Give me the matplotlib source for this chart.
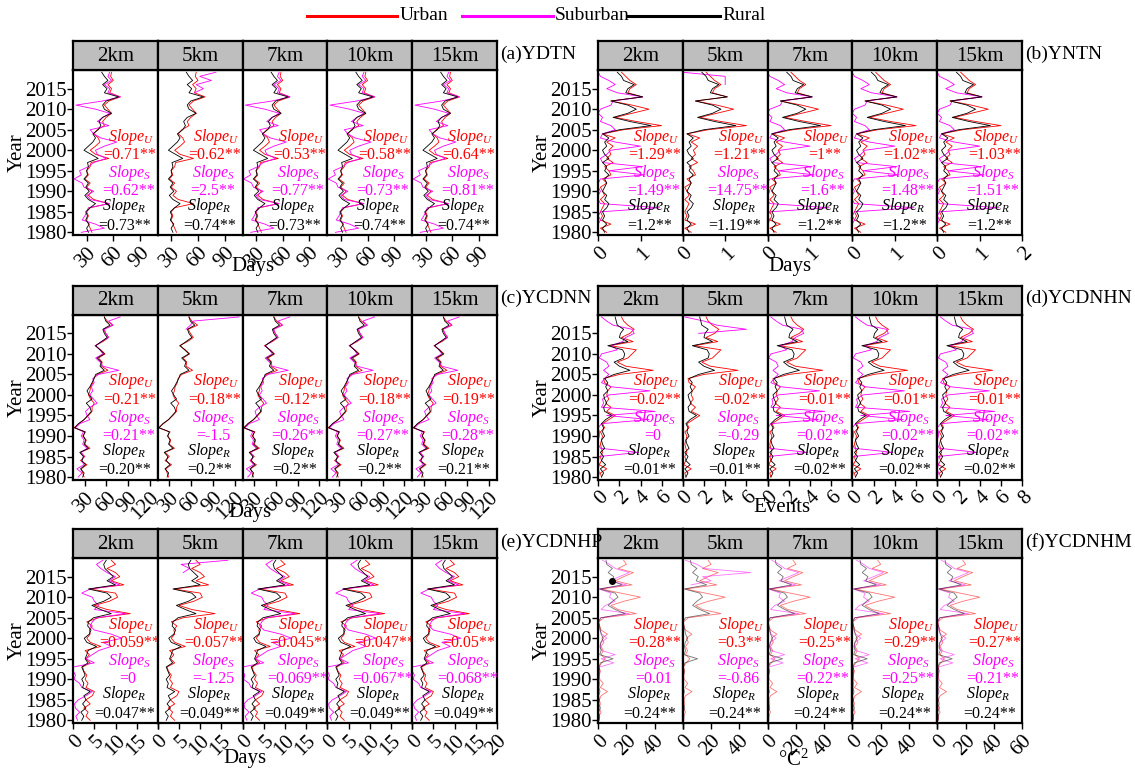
import numpy as np
import matplotlib.pyplot as plt
from matplotlib.lines import Line2D
from matplotlib.transforms import blended_transform_factory

plt.rcParams['font.family'] = 'serif'
plt.rcParams['font.serif'] = ['Liberation Serif', 'Nimbus Roman', 'DejaVu Serif']
plt.rcParams['mathtext.fontset'] = 'custom'
plt.rcParams['mathtext.rm'] = 'Liberation Serif'
plt.rcParams['mathtext.it'] = 'Liberation Serif:italic'

W, H = 1135, 769
years = np.arange(1980, 2020)
dists = ['2km', '5km', '7km', '10km', '15km']

# (a) YDTN, days
urban_a = [36, 34, 32, 30, 32, 30, 34, 55, 38, 32, 36, 30, 34, 28, 32, 30, 34, 35, 55, 40,
           34, 40, 45, 43, 38, 42, 50, 48, 52, 58, 54, 50, 55, 68, 56, 58, 54, 60, 57, 58]
suburban_a = [24, 50, 40, 25, 28, 30, 32, 56, 34, 30, 38, 27, 25, 16, 24, 22, 32, 38, 52, 42,
              40, 50, 64, 46, 38, 34, 55, 42, 48, 56, 40, 18, 48, 68, 54, 56, 50, 58, 54, 56]
rural_a = [32, 30, 33, 29, 31, 29, 34, 40, 32, 28, 33, 29, 32, 27, 31, 30, 32, 31, 43, 35,
           27, 32, 37, 40, 37, 43, 46, 44, 48, 58, 50, 48, 52, 66, 50, 53, 48, 54, 50, 47]
sub5_years_a = [2014, 2015, 2016, 2017, 2018, 2019]
sub5_a = [56, 66, 58, 75, 62, 80]
slopes_a = (['0.71**', '0.62**', '0.53**', '0.58**', '0.64**'],
            ['0.62**', '2.5**', '0.77**', '0.73**', '0.81**'],
            ['0.73**', '0.74**', '0.73**', '0.74**', '0.74**'])

# (b) YNTN, days
urban_b = [0.2, 0.05, 0.3, 0.05, 0.1, 0.05, 0.1, 0.15, 0.05, 0.15, 0.1, 0.05, 0.2, 0.1, 0.3, 0.25, 0.15, 0.35, 0.2, 0.3,
           0.25, 0.35, 0.2, 0.4, 0.1, 0.6, 1.5, 0.9, 0.4, 0.8, 1.2, 0.8, 0.3, 1.05, 0.7, 0.75, 0.9, 0.75, 0.65, 0.55]
suburban_b = [0, 0, 0, 0.05, 0, 0.05, 1.45, 0.05, 0, 0, 0.05, 0, 0, 0.05, 1.1, 0.25, 1.05, 0.1, 0.05, 0.2,
              0.3, 1.0, 0.4, 0.05, 0.1, 0.4, 0.3, 0.05, 0.1, 0.0, 0.05, 0.3, 0.35, 1.05, 0.45, 0.2, 0.4, 0.25, 0.05, 0.0]
rural_b = [0.15, 0.1, 0.2, 0.1, 0.15, 0.1, 0.2, 0.25, 0.15, 0.2, 0.1, 0.15, 0.2, 0.15, 0.25, 0.15, 0.2, 0.1, 0.25, 0.15,
           0.1, 0.2, 0.15, 0.25, 0.1, 0.5, 1.25, 0.75, 0.35, 0.7, 0.9, 0.7, 0.3, 1.05, 0.65, 0.7, 0.85, 0.6, 0.55, 0.45]
sub5_years_b = [2016, 2017, 2018, 2019]
sub5_b = [1.0, 1.0, 1.0, 0.0]
slopes_b = (['1.29**', '1.21**', '1**', '1.02**', '1.03**'],
            ['1.49**', '14.75**', '1.6**', '1.48**', '1.51**'],
            ['1.2**', '1.19**', '1.2**', '1.2**', '1.2**'])

# (c) YCDNN, days
urban_c = [29, 27, 25, 33, 24, 30, 24, 37, 30, 32, 27, 31, 15, 22, 29, 35, 40, 40, 43, 38,
           35, 37, 38, 41, 42, 47, 62, 53, 54, 49, 58, 52, 44, 55, 63, 59, 56, 69, 61, 57]
suburban_c = [21, 26, 19, 29, 25, 29, 25, 33, 27, 29, 25, 28, 17, 23, 37, 33, 31, 37, 47, 42,
              37, 41, 39, 43, 41, 49, 77, 55, 51, 45, 55, 51, 45, 53, 63, 59, 57, 69, 63, 79]
rural_c = [27, 29, 24, 31, 26, 28, 23, 35, 29, 31, 28, 30, 16, 21, 29, 34, 39, 37, 32, 40,
           36, 33, 37, 40, 43, 45, 57, 51, 53, 47, 57, 51, 45, 53, 61, 57, 55, 65, 59, 57]
sub5_years_c = [2016, 2017, 2018, 2019]
sub5_c = [53, 59, 63, 126]
slopes_c = (['0.21**', '0.18**', '0.12**', '0.18**', '0.19**'],
            ['0.21**', '-1.5', '0.26**', '0.27**', '0.28**'],
            ['0.20**', '0.2**', '0.2**', '0.2**', '0.21**'])

# (d) YCDNHN, events
urban_d = [0.3, 0.2, 0.8, 0.1, 0.3, 0.2, 0.4, 0.3, 0.2, 0.3, 0.4, 0.2, 0.6, 0.4, 1.0, 1.6, 0.8, 1.2, 0.7, 1.0,
           0.8, 0.9, 1.2, 0.6, 0.5, 2.0, 5.2, 2.6, 1.8, 2.8, 3.2, 3.6, 1.1, 3.3, 2.2, 3.0, 3.4, 2.8, 2.4, 2.2]
suburban_d = [0, 0.1, 0, 0.1, 0, 0.1, 3.8, 0.2, 0, 0, 0.1, 0.1, 0, 0.3, 4.8, 0.8, 5.4, 0.3, 0.5, 0.4,
              1.0, 4.9, 1.2, 0.3, 0.6, 1.0, 0.5, 1.0, 0.8, 0.1, 0.3, 1.8, 1.2, 2.3, 2.6, 3.4, 3.2, 1.4, 0.8, 0.3]
rural_d = [0.3, 0.5, 0.2, 0.7, 0.3, 0.5, 0.2, 0.6, 0.4, 0.3, 0.6, 0.4, 0.5, 0.3, 0.7, 1.3, 0.6, 0.5, 0.8, 0.6,
           0.5, 0.9, 0.7, 0.9, 0.6, 1.5, 3.0, 2.0, 1.5, 2.4, 2.5, 2.3, 0.9, 2.8, 2.0, 2.1, 2.4, 1.8, 1.7, 1.6]
sub5_years_d = [2015, 2016, 2017, 2018, 2019]
sub5_d = [1.5, 6.0, 3.2, 2.0, 0.2]
slopes_d = (['0.02**', '0.02**', '0.01**', '0.01**', '0.01**'],
            ['0', '-0.29', '0.02**', '0.02**', '0.02**'],
            ['0.01**', '0.01**', '0.02**', '0.02**', '0.02**'])

# (e) YCDNHP, days
urban_e = [4.0, 3.0, 3.5, 2.5, 4.0, 3.0, 4.5, 5.0, 3.0, 3.5, 2.8, 3.2, 2.5, 2.2, 4.0, 3.0, 3.8, 2.8, 6.5, 4.0,
           3.2, 4.0, 3.8, 4.5, 3.2, 6.0, 13.5, 8.0, 5.0, 8.5, 10.5, 10.0, 3.8, 12.0, 9.0, 11.0, 10.0, 8.0, 10.0, 9.0]
suburban_e = [1.0, 0.6, 1.5, 0.5, 0.3, 1.2, 3.0, 4.5, 2.0, 1.5, 0.2, 0.5, 0.0, 0.0, 5.0, 3.0, 4.5, 6.0, 9.0, 7.0,
              11.5, 9.0, 5.0, 4.0, 4.5, 5.5, 12.5, 5.0, 6.0, 5.0, 4.5, 2.0, 4.0, 11.0, 8.5, 10.0, 8.0, 6.5, 5.5, 7.0]
rural_e = [2.0, 2.5, 1.8, 3.0, 2.2, 3.0, 2.5, 4.0, 2.2, 2.5, 2.0, 2.8, 2.4, 2.0, 3.5, 2.8, 3.2, 3.5, 5.5, 3.2,
           2.6, 3.8, 4.2, 3.4, 3.6, 4.8, 9.0, 6.5, 4.4, 7.2, 9.0, 8.0, 3.6, 10.0, 8.0, 9.5, 8.5, 7.5, 7.2, 7.8]
sub5_years_e = [2016, 2017, 2018, 2019]
sub5_e = [6.0, 7.5, 5.5, 16.5]
slopes_e = (['0.059**', '0.057**', '0.045**', '0.047**', '0.05**'],
            ['0', '-1.25', '0.069**', '0.067**', '0.068**'],
            ['0.047**', '0.049**', '0.049**', '0.049**', '0.049**'])

# (f) YCDNHM, degC^2
urban_f = [1.0, 0.5, 2.0, 0.5, 1.5, 0.8, 2.0, 6.5, 1.5, 3.5, 1.0, 0.8, 1.5, 0.5, 2.5, 5.0, 2.0, 3.5, 2.0, 4.0,
           2.5, 6.5, 2.0, 1.0, 0.5, 4.0, 27.0, 14.0, 9.0, 18.0, 30.0, 16.0, 2.0, 24.0, 12.0, 18.0, 25.0, 14.0, 20.0, 18.0]
suburban_f = [0.2, 0.5, 0.1, 0.3, 0.2, 0.4, 0.2, 0.5, 0.3, 0.2, 0.5, 0.3, 0.6, 1.0, 11.0, 2.0, 12.0, 2.5, 1.5, 2.0,
              6.0, 2.5, 1.0, 0.5, 0.3, 1.5, 22.0, 2.0, 5.0, 12.0, 8.0, 9.0, 0.5, 20.0, 8.0, 15.0, 22.0, 12.0, 8.0, 3.0]
rural_f = [0.5, 1.0, 0.3, 1.5, 0.5, 0.8, 0.3, 1.2, 0.5, 0.8, 0.4, 0.6, 1.0, 0.5, 1.5, 10.5, 1.0, 2.0, 1.2, 1.8,
           3.5, 2.0, 1.5, 0.8, 0.0, 2.0, 19.0, 12.0, 7.0, 10.0, 14.0, 12.0, 1.0, 17.0, 9.5, 11.0, 7.0, 10.0, 6.0, 5.5]
sub5_years_f = [2013, 2014, 2015, 2016, 2017, 2018, 2019]
sub5_f = [6, 20, 14, 48, 15, 10, 2]
dot_year_f = 2014
slopes_f = (['0.28**', '0.3**', '0.25**', '0.29**', '0.27**'],
            ['0.01', '-0.86', '0.22**', '0.25**', '0.21**'],
            ['0.24**', '0.24**', '0.24**', '0.24**', '0.24**'])

panels = [
    dict(tag='(a)YDTN', row=0, col=0, xlim=(15, 110), ticks=[30, 60, 90], hide_last=False, xlabel='Days',
         u=urban_a, s=suburban_a, r=rural_a, s5y=sub5_years_a, s5=sub5_a, slopes=slopes_a, alpha=1.0),
    dict(tag='(b)YNTN', row=0, col=1, xlim=(0, 2), ticks=[0, 1, 2], hide_last=True, xlabel='Days',
         u=urban_b, s=suburban_b, r=rural_b, s5y=sub5_years_b, s5=sub5_b, slopes=slopes_b, alpha=1.0),
    dict(tag='(c)YCDNN', row=1, col=0, xlim=(14, 131), ticks=[30, 60, 90, 120], hide_last=False, xlabel='Days',
         u=urban_c, s=suburban_c, r=rural_c, s5y=sub5_years_c, s5=sub5_c, slopes=slopes_c, alpha=1.0),
    dict(tag='(d)YCDNHN', row=1, col=1, xlim=(0, 8), ticks=[0, 2, 4, 6, 8], hide_last=True, xlabel='Events',
         u=urban_d, s=suburban_d, r=rural_d, s5y=sub5_years_d, s5=sub5_d, slopes=slopes_d, alpha=1.0),
    dict(tag='(e)YCDNHP', row=2, col=0, xlim=(0, 20), ticks=[0, 5, 10, 15, 20], hide_last=True, xlabel='Days',
         u=urban_e, s=suburban_e, r=rural_e, s5y=sub5_years_e, s5=sub5_e, slopes=slopes_e, alpha=1.0),
    dict(tag='(f)YCDNHM', row=2, col=1, xlim=(0, 60), ticks=[0, 20, 40, 60], hide_last=True, xlabel='°C$^2$',
         u=urban_f, s=suburban_f, r=rural_f, s5y=sub5_years_f, s5=sub5_f, slopes=slopes_f, alpha=0.55),
]

col_edges = [[73.3, 157.7, 242.7, 327.3, 412.3, 496.7],
             [598.3, 682.7, 767.7, 852.3, 937.3, 1022.3]]
row_y = [(41, 70, 235), (285.7, 314.7, 479.7), (529, 558, 723)]
xlab_pos = {(0, 0): (253, 267), (0, 1): (790, 266), (1, 0): (250, 512), (1, 1): (782, 508),
            (2, 0): (245, 759), (2, 1): (793, 760)}
tag_x = {0: 500, 1: 1025}
ylab_x = {0: 17, 1: 542}


def box(x0, y0, x1, y1):
    return [x0 / W, 1 - y1 / H, (x1 - x0) / W, (y1 - y0) / H]


fig = plt.figure(figsize=(W / 100, H / 100), dpi=100)

for p in panels:
    xs = col_edges[p['col']]
    st, pt, pb = row_y[p['row']]
    a = p['alpha']
    for k in range(5):
        ax = fig.add_axes(box(xs[k], pt, xs[k + 1], pb))
        sax = fig.add_axes(box(xs[k], st, xs[k + 1], pt))
        sax.set_facecolor('#BEBEBE')
        sax.set_xticks([])
        sax.set_yticks([])
        sax.text(0.5, 0.48, dists[k], ha='center', va='center', fontsize=15, transform=sax.transAxes)
        for sp in list(ax.spines.values()) + list(sax.spines.values()):
            sp.set_linewidth(1.6)

        ax.plot(p['u'], years, color='#FF0000', lw=0.6, alpha=a)
        if k == 1:
            ax.plot(p['s5'], p['s5y'], color='#FF00FF', lw=0.6, alpha=a)
        else:
            ax.plot(p['s'], years, color='#FF00FF', lw=0.6, alpha=a)
        ax.plot(p['r'], years, color='black', lw=0.6, alpha=a)
        if p['tag'] == '(f)YCDNHM' and k == 0:
            i = list(years).index(dot_year_f)
            ax.plot(p['r'][i], dot_year_f, 'o', color='black', ms=4)

        ax.set_xlim(*p['xlim'])
        ax.set_ylim(1979.35, 2019.55)
        labels = [str(t) for t in p['ticks']]
        if p['hide_last'] and k < 4:
            labels[-1] = ''
        ax.set_xticks(p['ticks'])
        ax.set_xticklabels(labels, rotation=45, ha='right', va='top', rotation_mode='anchor')
        ax.tick_params(axis='x', length=4, width=1, labelsize=15, pad=2)
        if k == 0:
            ax.set_yticks([1980, 1985, 1990, 1995, 2000, 2005, 2010, 2015])
            ax.tick_params(axis='y', length=4, width=1, labelsize=15, pad=1)
        else:
            ax.set_yticks([])

        tr = blended_transform_factory(ax.transAxes, ax.transData)
        su, ss, sr = p['slopes'][0][k], p['slopes'][1][k], p['slopes'][2][k]
        fs = 11.5
        ax.text(0.69, 2003.3, r'$\mathit{Slope}_{U}$', color='#FF0000', fontsize=fs, ha='center', va='center', transform=tr)
        ax.text(0.67, 1998.8, '=' + su, color='#FF0000', fontsize=fs, ha='center', va='center', transform=tr)
        ax.text(0.66, 1994.5, r'$\mathit{Slope}_{S}$', color='#FF00FF', fontsize=fs, ha='center', va='center', transform=tr)
        ax.text(0.65, 1990.0, '=' + ss, color='#FF00FF', fontsize=fs, ha='center', va='center', transform=tr)
        ax.text(0.60, 1986.3, r'$\mathit{Slope}_{R}$', color='black', fontsize=fs, ha='center', va='center', transform=tr)
        ax.text(0.61, 1981.6, '=' + sr, color='black', fontsize=fs, ha='center', va='center', transform=tr)

    lx, ly = xlab_pos[(p['row'], p['col'])]
    fig.text(lx / W, 1 - ly / H, p['xlabel'], ha='center', va='center', fontsize=15)
    fig.text(ylab_x[p['col']] / W, 1 - (pt + pb) / 2 / H, 'Year', rotation=90, ha='center', va='center', fontsize=15)
    fig.text(tag_x[p['col']] / W, 1 - (st + 13) / H, p['tag'], ha='left', va='center', fontsize=14)

# legend
leg = [('Urban', '#FF0000', 307, 397, 400), ('Suburban', '#FF00FF', 462, 553, 555), ('Rural', 'black', 627, 720, 722)]
for name, c, x0, x1, tx in leg:
    fig.add_artist(Line2D([x0 / W, x1 / W], [1 - 16 / H, 1 - 16 / H], color=c, lw=2.2, transform=fig.transFigure))
    fig.text(tx / W, 1 - 16 / H, name, ha='left', va='center', fontsize=14)

fig.savefig('out.png', dpi=100)
